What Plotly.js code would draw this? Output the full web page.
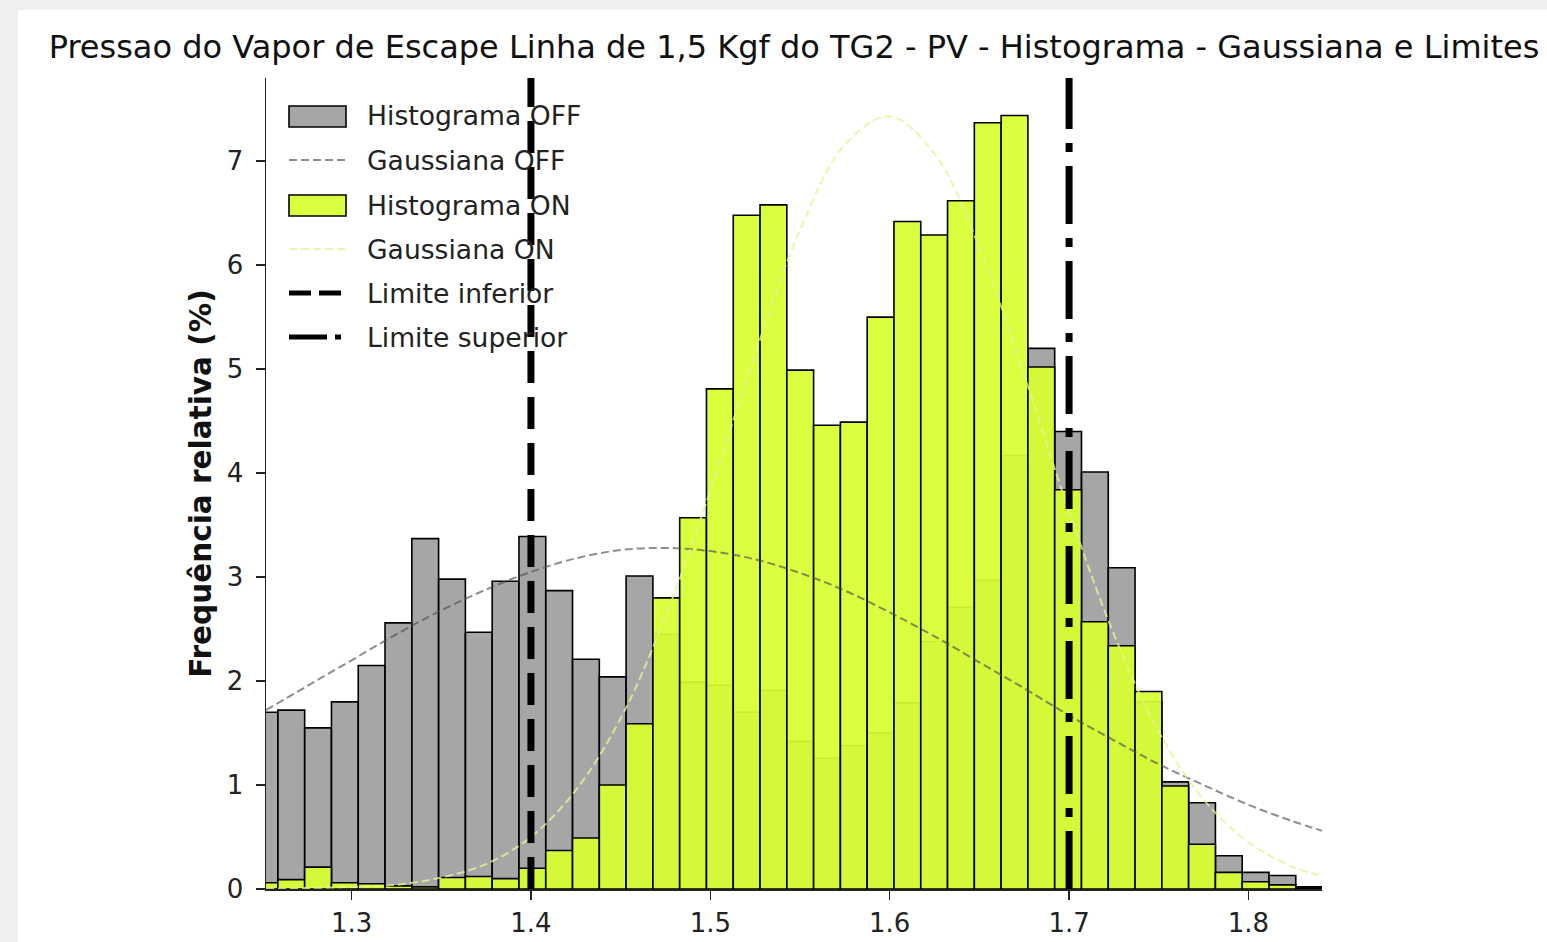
<!DOCTYPE html>
<html>
<head>
<meta charset="utf-8">
<script src="https://cdn.plot.ly/plotly-3.0.1.min.js"></script>
<style>
  html, body { margin: 0; padding: 0; background: #efefef; width: 1547px; height: 942px; overflow: hidden; }
  #chart { position: absolute; left: 18px; top: 10px; width: 1529px; height: 932px; background: #ffffff; }
</style>
</head>
<body>
<div id="chart"></div>
<script>
// ---------------- data ----------------
const titleText = "Pressao do Vapor de Escape Linha de 1,5 Kgf do TG2 - PV - Histograma - Gaussiana e Limites";
const yLabel = "Frequência relativa (%)";

// histogram bins: first (partly clipped) bin left edge and bin width
const binStart = 1.24399;
const binWidth = 0.014933;

// relative frequency (%) per bin
const freqOff = [1.70,1.72,1.55,1.80,2.15,2.56,3.37,2.98,2.47,2.96,
                 3.39,2.87,2.21,2.04,3.01,2.45,1.99,1.96,1.70,1.91,
                 1.42,1.26,1.38,1.50,1.79,2.38,2.71,2.97,4.17,5.20,
                 4.40,4.01,3.09,1.80,1.03,0.83,0.32,0.16,0.13,0.02];
const freqOn  = [0.06,0.09,0.21,0.06,0.05,0.03,0.02,0.11,0.12,0.10,
                 0.20,0.37,0.49,1.00,1.59,2.80,3.57,4.81,6.48,6.58,
                 4.99,4.46,4.49,5.50,6.42,6.29,6.62,7.37,7.44,5.02,
                 3.84,2.57,2.34,1.90,0.99,0.43,0.16,0.07,0.04,0.01];

// gaussian curves read at these x positions
const gaussX   = [1.2523,1.275,1.30,1.325,1.35,1.375,1.40,1.425,1.45,1.475,1.50,1.525,1.55,1.575,1.60,1.625,1.65,1.675,1.70,1.725,1.75,1.775,1.80,1.825,1.841];
const gaussOff = [1.72,1.95,2.20,2.45,2.68,2.88,3.05,3.18,3.26,3.28,3.25,3.17,3.04,2.87,2.66,2.43,2.18,1.93,1.67,1.43,1.20,1.00,0.81,0.65,0.56];
const gaussOn  = [0.00,0.01,0.02,0.04,0.11,0.24,0.50,0.95,1.64,2.62,3.83,5.15,6.34,7.16,7.43,7.07,6.17,4.94,3.63,2.45,1.51,0.86,0.45,0.21,0.13];

// limits
const limitLow = 1.4;
const limitHigh = 1.7;

// axes
const xRange = [1.2523, 1.841];
const yRange = [0, 7.8];
const xTicks = [1.3, 1.4, 1.5, 1.6, 1.7, 1.8];
const xTickText = ["1.3", "1.4", "1.5", "1.6", "1.7", "1.8"];
const yTicks = [0, 1, 2, 3, 4, 5, 6, 7];

const legendLabels = ["Histograma OFF", "Gaussiana OFF", "Histograma ON", "Gaussiana ON", "Limite inferior", "Limite superior"];

// ---------------- styles ----------------
const FONT = "DejaVu Sans, Liberation Sans, sans-serif";
const cOffFill = "rgba(128,128,128,0.70)";
const cOnFill = "rgba(215,255,48,0.93)";
const cOffLine = "rgba(80,80,80,0.65)";
const cOnLine = "rgba(230,242,150,0.8)";

const centers = freqOff.map((_, i) => binStart + (i + 0.5) * binWidth);

// page-pixel geometry of the plot area (for legend placement)
const DIV_L = 18, DIV_T = 10, W = 1529, H = 932;
const PL = 266, PR = 1322, PT = 78, PB = 889;
const px = (x) => (x - PL) / (PR - PL);
const py = (y) => (PB - y) / (PB - PT);

const traces = [
  { type: "bar", x: centers, y: freqOff, width: binWidth, name: legendLabels[0],
    marker: { color: cOffFill, line: { color: "#000", width: 1.6 } },
    xaxis: "x", yaxis: "y", hoverinfo: "skip" },
  { type: "bar", x: centers, y: freqOn, width: binWidth, name: legendLabels[2],
    marker: { color: cOnFill, line: { color: "#000", width: 1.6 } },
    xaxis: "x2", yaxis: "y2", hoverinfo: "skip" },
  { type: "scatter", mode: "lines", x: gaussX, y: gaussOff, name: legendLabels[1],
    line: { color: cOffLine, width: 2, dash: "8px,4px", shape: "spline" },
    xaxis: "x2", yaxis: "y2", hoverinfo: "skip" },
  { type: "scatter", mode: "lines", x: gaussX, y: gaussOn, name: legendLabels[3],
    line: { color: cOnLine, width: 2, dash: "8px,4px", shape: "spline" },
    xaxis: "x2", yaxis: "y2", hoverinfo: "skip" }
];

const shapes = [
  // limit lines (drawn from bottom up, like axvline)
  { type: "line", xref: "x", yref: "paper", x0: limitLow, x1: limitLow, y0: 0, y1: 1,
    line: { color: "#000", width: 7, dash: "32px,14px" } },
  { type: "line", xref: "x", yref: "paper", x0: limitHigh, x1: limitHigh, y0: 0, y1: 1,
    line: { color: "#000", width: 7, dash: "58px,14px,9px,14px" } },
  // legend handles
  { type: "rect", xref: "paper", yref: "paper", x0: px(289), x1: px(346), y0: py(127), y1: py(106),
    fillcolor: cOffFill, line: { color: "#000", width: 1.6 } },
  { type: "line", xref: "paper", yref: "paper", x0: px(289), x1: px(346), y0: py(160), y1: py(160),
    line: { color: cOffLine, width: 2, dash: "8px,4px" } },
  { type: "rect", xref: "paper", yref: "paper", x0: px(289), x1: px(346), y0: py(216), y1: py(195),
    fillcolor: cOnFill, line: { color: "#000", width: 1.6 } },
  { type: "line", xref: "paper", yref: "paper", x0: px(289), x1: px(346), y0: py(249), y1: py(249),
    line: { color: cOnLine, width: 2, dash: "8px,4px" } },
  { type: "line", xref: "paper", yref: "paper", x0: px(289), x1: px(346), y0: py(293), y1: py(293),
    line: { color: "#000", width: 5, dash: "22px,8px" } },
  { type: "line", xref: "paper", yref: "paper", x0: px(289), x1: px(346), y0: py(337), y1: py(337),
    line: { color: "#000", width: 5, dash: "38px,8px,6px,20px" } }
];

const legendY = [116, 160, 205, 249, 293, 337];
const annotations = legendLabels.map((t, i) => ({
  xref: "paper", yref: "paper", x: px(365), y: py(legendY[i]), xanchor: "left", yanchor: "middle",
  text: t, showarrow: false, font: { family: FONT, size: 26.6, color: "#222" }
}));

const axisCommon = {
  showgrid: false, zeroline: false, showline: true, linecolor: "#222", linewidth: 1.5,
  ticks: "outside", ticklen: 9, tickwidth: 1.5, tickcolor: "#222",
  tickfont: { family: FONT, size: 26, color: "#222" }, mirror: false
};

const layout = {
  width: W, height: H,
  paper_bgcolor: "#ffffff", plot_bgcolor: "#ffffff",
  margin: { l: PL - DIV_L, r: DIV_L + W - PR, t: PT - DIV_T, b: DIV_T + H - PB, pad: 0 },
  showlegend: false,
  barmode: "overlay",
  title: { text: titleText, font: { family: FONT, size: 32, color: "#111" },
           xref: "paper", x: 0.5, xanchor: "center", yref: "container", y: 1 - (47 - DIV_T) / H, yanchor: "middle" },
  xaxis: Object.assign({}, axisCommon, { range: xRange, tickvals: xTicks, ticktext: xTickText, ticklabelstandoff: 1 }),
  yaxis: Object.assign({}, axisCommon, { range: yRange, tickvals: yTicks, ticklabelstandoff: 7,
    title: { text: "<b>" + yLabel + "</b>", font: { family: FONT, size: 29.5, color: "#111" }, standoff: 6 } }),
  xaxis2: { overlaying: "x", range: xRange, visible: false },
  yaxis2: { overlaying: "y", range: yRange, visible: false },
  shapes: shapes,
  annotations: annotations
};

Plotly.newPlot("chart", traces, layout, { staticPlot: true, displayModeBar: false });
</script>
</body>
</html>
